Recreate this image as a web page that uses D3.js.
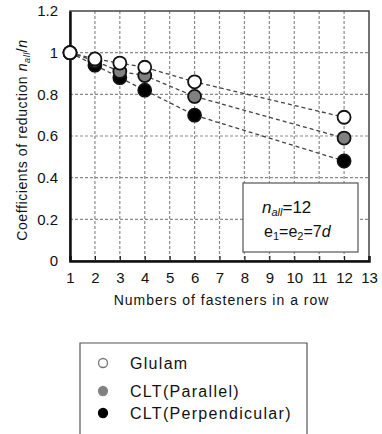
<!DOCTYPE html>
<html>
<head>
<meta charset="utf-8">
<script src="https://cdnjs.cloudflare.com/ajax/libs/d3/7.8.5/d3.min.js"></script>
<style>
  body { margin: 0; background: #fff; }
  text { font-family: "Liberation Sans", Arial, sans-serif; fill: #111; }
</style>
</head>
<body>
<div id="chart"></div>
<script>
// data
var xValues = [1, 2, 3, 4, 6, 12];
var glulam = [1.0, 0.97, 0.95, 0.93, 0.86, 0.69];
var cltParallel = [1.0, 0.96, 0.91, 0.89, 0.79, 0.59];
var cltPerp = [1.0, 0.94, 0.88, 0.82, 0.70, 0.48];
var seriesNames = ["Glulam", "CLT(Parallel)", "CLT(Perpendicular)"];
var xTicks = d3.range(1, 14);
var yTicks = [0, 0.2, 0.4, 0.6, 0.8, 1, 1.2];

var W = 382, H = 434;
var pLeft = 70, pRight = 369, pTop = 11, pBottom = 261;

var svg = d3.select("#chart").append("svg").attr("width", W).attr("height", H);

var x = d3.scaleLinear().domain([1, 13]).range([pLeft, pRight]);
var y = d3.scaleLinear().domain([0, 1.2]).range([pBottom, pTop]);

// grid
svg.append("g").selectAll("line").data(xTicks.slice(1, -1)).enter().append("line")
  .attr("x1", function(d) { return x(d); }).attr("x2", function(d) { return x(d); })
  .attr("y1", pTop).attr("y2", pBottom)
  .attr("stroke", "#8a8a8a").attr("stroke-width", 1.2).attr("stroke-dasharray", "3,2");
svg.append("g").selectAll("line").data(yTicks.slice(1, -1)).enter().append("line")
  .attr("x1", pLeft).attr("x2", pRight)
  .attr("y1", function(d) { return y(d); }).attr("y2", function(d) { return y(d); })
  .attr("stroke", "#8a8a8a").attr("stroke-width", 1.2).attr("stroke-dasharray", "3,2");

// frame
svg.append("rect").attr("x", pLeft).attr("y", pTop).attr("width", pRight - pLeft).attr("height", pBottom - pTop)
  .attr("fill", "none").attr("stroke", "#444").attr("stroke-width", 1.5);

// axes
var xAxis = d3.axisBottom(x).tickValues(xTicks).tickSize(-5).tickPadding(11).tickFormat(d3.format("d"));
var gx = svg.append("g").attr("transform", "translate(0," + pBottom + ")").call(xAxis);
var yAxis = d3.axisLeft(y).tickValues(yTicks).tickSize(0).tickPadding(12).tickFormat(function(d) { return d3.format("")(d); });
var gy = svg.append("g").attr("transform", "translate(" + pLeft + ",0)").call(yAxis);
[gx, gy].forEach(function(g) {
  g.select(".domain").attr("stroke", "#111").attr("stroke-width", 2.5);
  g.selectAll(".tick line").attr("stroke", "#222").attr("stroke-width", 1.2);
  g.selectAll("text").attr("font-size", 15).attr("font-family", "Liberation Sans, Arial, sans-serif").attr("fill", "#111");
});

// axis titles
svg.append("text").attr("x", (pLeft + pRight) / 2 + 2).attr("y", 305).attr("text-anchor", "middle")
  .attr("font-size", 14).attr("letter-spacing", 1).text("Numbers of fasteners in a row");
var yt = svg.append("text").attr("transform", "translate(27," + ((pTop + pBottom) / 2 + 4) + ") rotate(-90)")
  .attr("text-anchor", "middle").attr("font-size", 14).attr("letter-spacing", 0.6);
yt.append("tspan").text("Coefficients of reduction ");
yt.append("tspan").attr("font-style", "italic").text("n");
yt.append("tspan").attr("font-size", 9).attr("font-style", "italic").attr("dy", 3).text("all");
yt.append("tspan").attr("dy", -3).text("/");
yt.append("tspan").attr("font-style", "italic").text("n");

// series
var series = [
  { name: seriesNames[2], vals: cltPerp, fill: "#000" },
  { name: seriesNames[1], vals: cltParallel, fill: "#808080" },
  { name: seriesNames[0], vals: glulam, fill: "#fff" }
];
var line = d3.line().x(function(d) { return x(d[0]); }).y(function(d) { return y(d[1]); });
series.forEach(function(s) {
  svg.append("path").datum(d3.zip(xValues, s.vals)).attr("d", line)
    .attr("fill", "none").attr("stroke", "#444").attr("stroke-width", 1.3).attr("stroke-dasharray", "4,3");
});
series.forEach(function(s) {
  svg.append("g").selectAll("circle").data(d3.zip(xValues, s.vals)).enter().append("circle")
    .attr("cx", function(d) { return x(d[0]); }).attr("cy", function(d) { return y(d[1]); })
    .attr("r", 6.5).attr("fill", s.fill).attr("stroke", "#111").attr("stroke-width", 1.8);
});

// inset box
svg.append("rect").attr("x", 243).attr("y", 183).attr("width", 115).attr("height", 69)
  .attr("fill", "#fff").attr("stroke", "#555").attr("stroke-width", 1.2);
var t1 = svg.append("text").attr("x", 262).attr("y", 213).attr("font-size", 17);
t1.append("tspan").attr("font-style", "italic").text("n");
t1.append("tspan").attr("font-size", 11).attr("font-style", "italic").attr("dy", 3).text("all");
t1.append("tspan").attr("dy", -3).text("=12");
var t2 = svg.append("text").attr("x", 264).attr("y", 237).attr("font-size", 16);
t2.append("tspan").text("e");
t2.append("tspan").attr("font-size", 11).attr("dy", 3).text("1");
t2.append("tspan").attr("dy", -3).text("=e");
t2.append("tspan").attr("font-size", 11).attr("dy", 3).text("2");
t2.append("tspan").attr("dy", -3).text("=7");
t2.append("tspan").attr("font-style", "italic").text("d");

// legend
svg.append("path").attr("d", "M80,440V343H307V440")
  .attr("fill", "none").attr("stroke", "#555").attr("stroke-width", 1.2);
var legY = [363, 391, 413];
var legendItems = series.slice().reverse();
legendItems.forEach(function(s, i) {
  svg.append("circle").attr("cx", 103).attr("cy", legY[i]).attr("r", 4.5)
    .attr("fill", s.fill).attr("stroke", i === 0 ? "#777" : (i === 1 ? "#888" : "#000")).attr("stroke-width", 1.3);
  svg.append("text").attr("x", 130).attr("y", legY[i] + 6).attr("font-size", 16).attr("letter-spacing", 1.3).text(s.name);
});
</script>
</body>
</html>
